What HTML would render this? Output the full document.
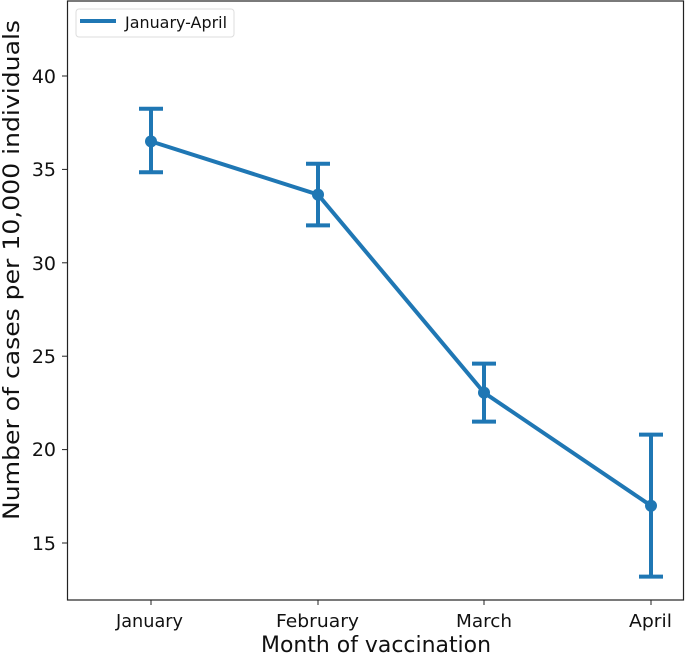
<!DOCTYPE html><html><head><style>body{margin:0;background:#fff}</style></head><body>
<svg width="685" height="654" xmlns="http://www.w3.org/2000/svg" font-family="DejaVu Sans, sans-serif">
<rect x="67.5" y="1" width="616" height="599" fill="#fff" stroke="#222" stroke-width="1.2"/>
<g stroke="#222" stroke-width="1">
<line x1="62" x2="67" y1="76" y2="76"/><line x1="62" x2="67" y1="169.4" y2="169.4"/><line x1="62" x2="67" y1="262.8" y2="262.8"/><line x1="62" x2="67" y1="356.2" y2="356.2"/><line x1="62" x2="67" y1="449.6" y2="449.6"/><line x1="62" x2="67" y1="543" y2="543"/>
<line x1="151" x2="151" y1="600" y2="605"/><line x1="318" x2="318" y1="600" y2="605"/><line x1="484" x2="484" y1="600" y2="605"/><line x1="651" x2="651" y1="600" y2="605"/>
</g>
<g font-size="19" text-anchor="end" fill="#111">
<text x="56" y="83">40</text><text x="56" y="176">35</text><text x="56" y="270">30</text><text x="56" y="363">25</text><text x="56" y="456">20</text><text x="56" y="550">15</text>
</g>
<g font-size="18" fill="#111">
<text x="116" y="627" textLength="67" lengthAdjust="spacingAndGlyphs">January</text><text x="276" y="627" textLength="83" lengthAdjust="spacingAndGlyphs">February</text><text x="456" y="627" textLength="56" lengthAdjust="spacingAndGlyphs">March</text><text x="629" y="627" textLength="43" lengthAdjust="spacingAndGlyphs">April</text>
</g>
<text x="261" y="652" font-size="22" textLength="230" lengthAdjust="spacingAndGlyphs" fill="#111">Month of vaccination</text>
<text transform="translate(19,520) rotate(-90)" font-size="22" textLength="500" lengthAdjust="spacingAndGlyphs" fill="#111">Number of cases per 10,000 individuals</text>
<g stroke="#1f77b4" stroke-width="4" fill="none">
<polyline points="151,141.4 318,194.6 484,392.6 651,505.7"/>
<line x1="151" x2="151" y1="108.7" y2="172.2"/><line x1="139" x2="163" y1="108.7" y2="108.7"/><line x1="139" x2="163" y1="172.2" y2="172.2"/>
<line x1="318" x2="318" y1="163.8" y2="225.4"/><line x1="306" x2="330" y1="163.8" y2="163.8"/><line x1="306" x2="330" y1="225.4" y2="225.4"/>
<line x1="484" x2="484" y1="363.6" y2="421.6"/><line x1="472" x2="496" y1="363.6" y2="363.6"/><line x1="472" x2="496" y1="421.6" y2="421.6"/>
<line x1="651" x2="651" y1="434.6" y2="576.6"/><line x1="639" x2="663" y1="434.6" y2="434.6"/><line x1="639" x2="663" y1="576.6" y2="576.6"/>
</g>
<g fill="#1f77b4"><circle cx="151" cy="141.4" r="6"/><circle cx="318" cy="194.6" r="6"/><circle cx="484" cy="392.6" r="6"/><circle cx="651" cy="505.7" r="6"/></g>
<rect x="76" y="9" width="158" height="28" rx="3" fill="#fff" stroke="#ddd"/>
<line x1="80" x2="116" y1="21" y2="21" stroke="#1f77b4" stroke-width="4"/>
<text x="125" y="28" font-size="16" textLength="102" lengthAdjust="spacingAndGlyphs" fill="#111">January-April</text>
</svg>
</body></html>
